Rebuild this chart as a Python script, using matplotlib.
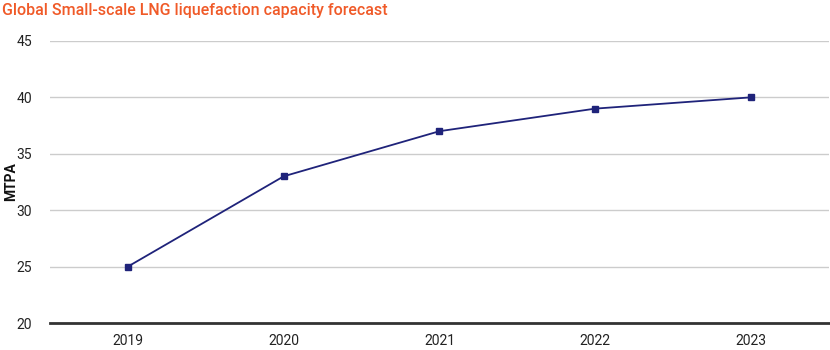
import matplotlib.pyplot as plt

plt.rcParams['font.family'] = ['Roboto', 'DejaVu Sans']

years = ['2019', '2020', '2021', '2022', '2023']
capacity = [25, 33, 37, 39, 40]
yticks = [20, 25, 30, 35, 40, 45]

fig = plt.figure(figsize=(8.3, 3.5), dpi=100)
ax = fig.add_axes([0.0602, 0.0771, 0.9386, 0.806])

ax.plot(range(len(years)), capacity, color='#1f237a', lw=1.3,
        marker='s', markersize=5, zorder=3)

ax.set_xlim(-0.5, len(years) - 0.5)
ax.set_ylim(20, 45)
ax.set_yticks(yticks)
ax.set_xticks(range(len(years)))
ax.set_xticklabels(years)
ax.grid(axis='y', color='#cccccc', lw=1)
ax.set_axisbelow(True)
for s in ['top', 'right', 'left']:
    ax.spines[s].set_visible(False)
ax.spines['bottom'].set_color('#333333')
ax.spines['bottom'].set_linewidth(2)
ax.tick_params(axis='both', length=0, labelsize=10, colors='#222222')
ax.tick_params(axis='y', pad=13)
ax.tick_params(axis='x', pad=8)

# y label placed by hand so it doesn't get clipped
fig.text(0.013, 0.48, 'MTPA', fontsize=10, fontweight='bold',
         rotation=90, ha='center', va='center', color='#111111')
fig.text(0.003, 0.99, 'Global Small-scale LNG liquefaction capacity forecast',
         color='#f05a28', fontsize=11.5, fontweight='medium', ha='left', va='top')

fig.savefig('out.png')
